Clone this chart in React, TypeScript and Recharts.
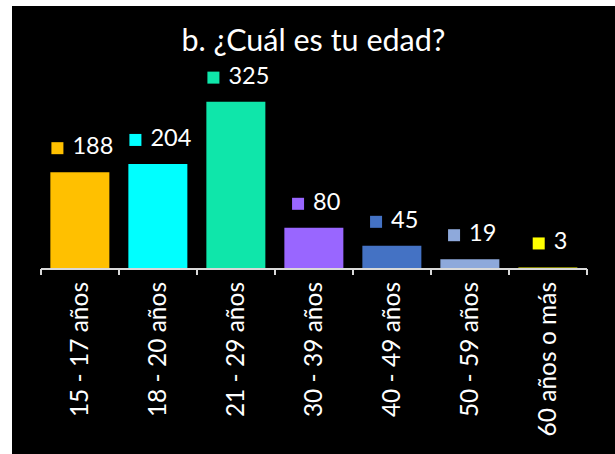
import { BarChart, Bar, XAxis, YAxis, Cell, LabelList } from "recharts";

const categories = [
  "15 - 17 años",
  "18 - 20 años",
  "21 - 29 años",
  "30 - 39 años",
  "40 - 49 años",
  "50 - 59 años",
  "60 años o más",
];
const counts = [188, 204, 325, 80, 45, 19, 3];
const colors = ["#FFC000", "#00FFFF", "#0FE6AA", "#9966FF", "#4472C4", "#8EA9DB", "#FFFF00"];

const data = categories.map((name, i) => ({ name, value: counts[i] }));

const W = 603;
const H = 448;
const M = { top: 57, right: 28, bottom: 0, left: 29 };
const PLOT_W = W - M.left - M.right;
const BAND = PLOT_W / categories.length;
const FONT = "Lato, 'Open Sans', sans-serif";

function AgeTick(props: any) {
  const { x, y, payload, index } = props;
  const axisY = y - 13;
  return (
    <g>
      <line x1={x - BAND / 2} y1={axisY} x2={x - BAND / 2} y2={axisY + 6} stroke="#d9d9d9" strokeWidth={2} />
      {index === categories.length - 1 && (
        <line x1={x + BAND / 2} y1={axisY} x2={x + BAND / 2} y2={axisY + 6} stroke="#d9d9d9" strokeWidth={2} />
      )}
      <text
        x={x - 2}
        y={y}
        transform={`rotate(-90, ${x - 2}, ${y})`}
        textAnchor="end"
        dominantBaseline="central"
        fill="#ffffff"
        fontSize={24.5}
        fontFamily={FONT}
      >
        {payload.value}
      </text>
    </g>
  );
}

function ValueLabel(props: any) {
  const { x, y, width, value, index } = props;
  const text = String(value);
  const textW = text.length * 13.3;
  const groupW = 12 + 9 + textW;
  const left = x + width / 2 + 2 - groupW / 2;
  return (
    <g>
      <rect x={left} y={y - 30} width={12} height={12} fill={colors[index]} />
      <text x={left + 21} y={y - 18} fill="#ffffff" fontSize={23.5} fontFamily={FONT}>
        {text}
      </text>
    </g>
  );
}

export default function App() {
  return (
    <div style={{ position: "fixed", left: 0, top: 0, width: 615, height: 454, background: "#ffffff" }}>
      <div style={{ position: "absolute", left: 12, top: 6, width: W, height: H, background: "#000000" }}>
        <div
          style={{
            position: "absolute",
            left: 0,
            top: 15,
            width: W,
            textAlign: "center",
            color: "#ffffff",
            fontFamily: FONT,
            fontSize: 30.5,
            lineHeight: "36px",
          }}
        >
          b. ¿Cuál es tu edad?
        </div>
        <BarChart width={W} height={H} data={data} margin={M} barCategoryGap="12%">
          <XAxis
            dataKey="name"
            height={H - 263 - M.bottom}
            interval={0}
            axisLine={{ stroke: "#d9d9d9", strokeWidth: 2 }}
            tickLine={false}
            tickSize={6}
            tickMargin={7}
            tick={<AgeTick />}
          />
          <YAxis hide domain={[0, 400]} />
          <Bar dataKey="value" isAnimationActive={false}>
            {data.map((d, i) => (
              <Cell key={d.name} fill={colors[i]} />
            ))}
            <LabelList dataKey="value" content={<ValueLabel />} />
          </Bar>
        </BarChart>
      </div>
    </div>
  );
}
